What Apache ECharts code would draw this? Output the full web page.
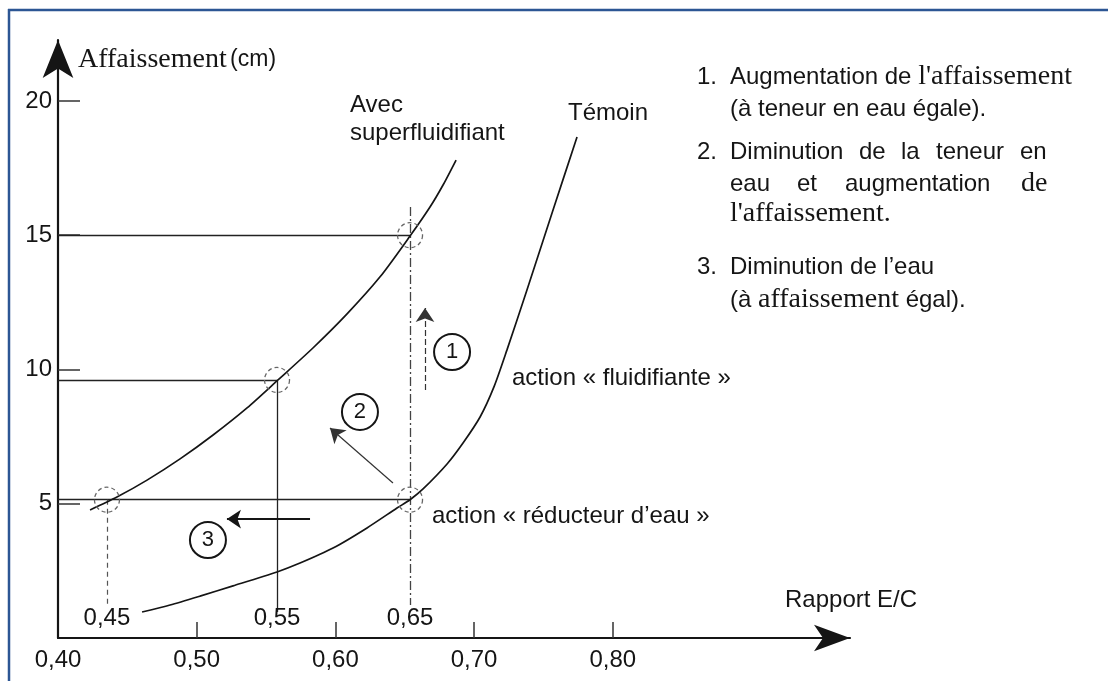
<!DOCTYPE html>
<html>
<head>
<meta charset="utf-8">
<script src="https://cdn.jsdelivr.net/npm/echarts@6/dist/echarts.min.js"></script>
<style>
html,body{margin:0;padding:0;background:#fff;}
#c{width:1108px;height:681px;}
</style>
</head>
<body>
<div id="c"></div>
<script>
// ---- data ----
const sfX = [0.4231, 0.4425, 0.4642, 0.4880, 0.5118, 0.5363, 0.5586, 0.5838, 0.6084, 0.6322, 0.6538, 0.6682, 0.6776, 0.6870];
const sfY = [4.77, 5.25, 5.88, 6.67, 7.56, 8.57, 9.61, 10.80, 12.07, 13.45, 14.97, 16.05, 16.87, 17.80];
const temX = [0.4606, 0.4808, 0.5024, 0.5262, 0.5579, 0.5745, 0.5983, 0.6228, 0.6444, 0.6538, 0.6632, 0.6805, 0.6920, 0.7043, 0.7143, 0.7237, 0.7381, 0.7569, 0.7742];
const temY = [0.97, 1.23, 1.56, 1.94, 2.46, 2.79, 3.35, 4.10, 4.84, 5.15, 5.55, 6.48, 7.26, 8.23, 9.35, 10.73, 12.96, 15.94, 18.66];

const xTickLabels = [0.40, 0.50, 0.60, 0.70, 0.80];
const xTicks = [0.50, 0.60, 0.70, 0.80];
const yTicks = [5, 10, 15, 20];

const hLineY = [15.0, 9.61, 5.15];
const hLineEndX = [0.6538, 0.5579, 0.6538];
const vLineX = [0.4353, 0.5579, 0.6538];
const vLineTop = [5.15, 9.61, 16.05];
const vLineBottom = [1.23, 0.97, 1.23];
const vLineLabels = ['0,45', '0,55', '0,65'];
const vLabelY = 0.745;

const markX = [0.4353, 0.5579, 0.6538, 0.6538];
const markY = [5.15, 9.61, 15.0, 5.15];

const stepNames = ['1', '2', '3'];
const stepX = [0.6841, 0.6177, 0.5081];
const stepY = [10.65, 8.42, 3.65];

const arrowFrom = [[0.6646, 9.24], [0.6415, 5.77], [0.5817, 4.43]];
const arrowTo = [[0.6646, 12.29], [0.5961, 7.82], [0.5218, 4.43]];

// ---- chart ----
const SANS = '"Liberation Sans", Arial, sans-serif';
const SERIF = '"Liberation Serif", "Times New Roman", serif';
const INK = '#151515';

const chart = echarts.init(document.getElementById('c'), null, {renderer: 'canvas'});

const vStyles = [
  {color: '#555', width: 1.2, type: [5, 4], opacity: 1},
  {color: '#222', width: 1.3, type: 'solid', opacity: 1},
  {color: '#444', width: 1.3, type: [9, 3, 2, 3], opacity: 1}
];
const refLines = [];
hLineY.forEach((y, i) => refLines.push({coords: [[0.40, y], [hLineEndX[i], y]], lineStyle: {color: '#222', width: 1.4, type: 'solid', opacity: 1}}));
vLineX.forEach((x, i) => refLines.push({coords: [[x, vLineTop[i]], [x, vLineBottom[i]]], lineStyle: vStyles[i]}));

const arrowStyles = [
  {color: '#333', width: 1.2, type: [6, 3], opacity: 1},
  {color: '#333', width: 1.2, type: 'solid', opacity: 1},
  {color: INK, width: 1.8, type: 'solid', opacity: 1}
];
const arrows = arrowFrom.map((f, i) => ({coords: [f, arrowTo[i]], lineStyle: arrowStyles[i]}));

function txt(text, x, y, font) {
  return {type: 'text', x: x, y: y, z: 100,
    style: {text: text, font: font, fill: INK, verticalAlign: 'middle', align: 'left'}};
}
const sans24 = '24px ' + SANS;
const serif28 = '28px ' + SERIF;

const option = {
  backgroundColor: '#ffffff',
  animation: false,
  grid: {left: 58, top: 40, width: 792, height: 598, containLabel: false, outerBoundsMode: 'none'},
  xAxis: {
    type: 'value', min: 0.40, max: 0.971,
    axisLine: {show: true, onZero: false, symbol: ['none', 'arrow'], symbolSize: [20, 36], lineStyle: {color: INK, width: 2.2}},
    axisTick: {show: true, inside: true, length: 16, customValues: xTicks, lineStyle: {color: '#333', width: 1.5}},
    axisLabel: {show: true, customValues: xTickLabels, margin: 10, fontSize: 24, fontFamily: SANS, color: INK,
      formatter: v => Number(v).toFixed(2).replace('.', ',')},
    splitLine: {show: false}
  },
  yAxis: {
    type: 'value', min: 0, max: 22.27,
    axisLine: {show: true, onZero: false, symbol: ['none', 'arrow'], symbolSize: [23, 38], lineStyle: {color: INK, width: 2.2}},
    axisTick: {show: true, inside: true, length: 22, customValues: yTicks, lineStyle: {color: '#333', width: 1.5}},
    axisLabel: {show: true, customValues: yTicks, margin: 6, fontSize: 24, fontFamily: SANS, color: INK},
    splitLine: {show: false}
  },
  series: [
    {type: 'lines', coordinateSystem: 'cartesian2d', silent: true, symbol: 'none',
      lineStyle: {opacity: 1}, data: refLines, z: 2},
    {type: 'line', name: 'Avec superfluidifiant', data: sfX.map((x, i) => [x, sfY[i]]), smooth: 0.25,
      showSymbol: false, lineStyle: {color: INK, width: 1.7}, z: 3},
    {type: 'line', name: 'Témoin', data: temX.map((x, i) => [x, temY[i]]), smooth: 0.25,
      showSymbol: false, lineStyle: {color: INK, width: 1.7}, z: 3},
    {type: 'scatter', symbol: 'circle', symbolSize: 25, data: markX.map((x, i) => [x, markY[i]]),
      itemStyle: {color: 'rgba(0,0,0,0)', borderColor: '#666', borderWidth: 1.3, borderType: [4, 3], opacity: 1}, z: 4},
    {type: 'scatter', symbolSize: 0, data: vLineX.map((x, i) => ({value: [x, vLabelY], name: vLineLabels[i]})),
      itemStyle: {opacity: 1},
      label: {show: true, position: 'inside', formatter: '{b}', fontSize: 24, fontFamily: SANS, color: INK}, z: 5},
    {type: 'lines', coordinateSystem: 'cartesian2d', silent: true, symbol: ['none', 'arrow'], symbolSize: 14,
      lineStyle: {opacity: 1}, data: arrows, z: 5},
    {type: 'scatter', symbol: 'circle', symbolSize: 36,
      data: stepX.map((x, i) => ({value: [x, stepY[i]], name: stepNames[i]})),
      itemStyle: {color: '#fff', borderColor: INK, borderWidth: 2, opacity: 1},
      label: {show: true, position: 'inside', formatter: '{b}', fontSize: 22, fontFamily: SANS, color: INK}, z: 6}
  ],
  graphic: [
    {type: 'line', shape: {x1: 8, y1: 10, x2: 1108, y2: 10}, style: {stroke: '#2c5694', lineWidth: 2.5}, z: 100},
    {type: 'line', shape: {x1: 9, y1: 9, x2: 9, y2: 681}, style: {stroke: '#2c5694', lineWidth: 2.5}, z: 100},
    {type: 'text', x: 78, y: 60, z: 100, style: {text: '{s|Affaissement} {n|(cm)}', verticalAlign: 'middle', fill: INK,
      rich: {s: {font: serif28, fill: INK}, n: {font: '23px ' + SANS, fill: INK}}}},
    txt('Avec', 350, 105, sans24),
    txt('superfluidifiant', 350, 133, sans24),
    txt('Témoin', 568, 113, sans24),
    txt('action « fluidifiante »', 512, 378, sans24),
    txt('action « réducteur d\u2019eau »', 432, 516, sans24),
    txt('Rapport E/C', 785, 600, sans24),
    txt('1.', 697, 77, sans24),
    {type: 'text', x: 730, y: 77, z: 100, style: {text: '{s|Augmentation de }{r|l\'affaissement}', verticalAlign: 'middle', fill: INK,
      rich: {s: {font: sans24, fill: INK}, r: {font: serif28, fill: INK}}}},
    txt('(à teneur en eau égale).', 730, 109, sans24),
    txt('2.', 697, 152, sans24),
    txt('Diminution', 730, 152, sans24),
    txt('de', 859, 152, sans24),
    txt('la', 901, 152, sans24),
    txt('teneur', 936, 152, sans24),
    txt('en', 1020, 152, sans24),
    txt('eau', 730, 184, sans24),
    txt('et', 797, 184, sans24),
    txt('augmentation', 845, 184, sans24),
    txt('de', 1021, 184, serif28),
    txt('l\'affaissement.', 730, 214, serif28),
    txt('3.', 697, 267, sans24),
    txt('Diminution de l\u2019eau', 730, 267, sans24),
    {type: 'text', x: 730, y: 300, z: 100, style: {text: '{s|(à }{r|affaissement}{s| égal).}', verticalAlign: 'middle', fill: INK,
      rich: {s: {font: sans24, fill: INK}, r: {font: serif28, fill: INK}}}}
  ]
};
chart.setOption(option);
</script>
</body>
</html>
